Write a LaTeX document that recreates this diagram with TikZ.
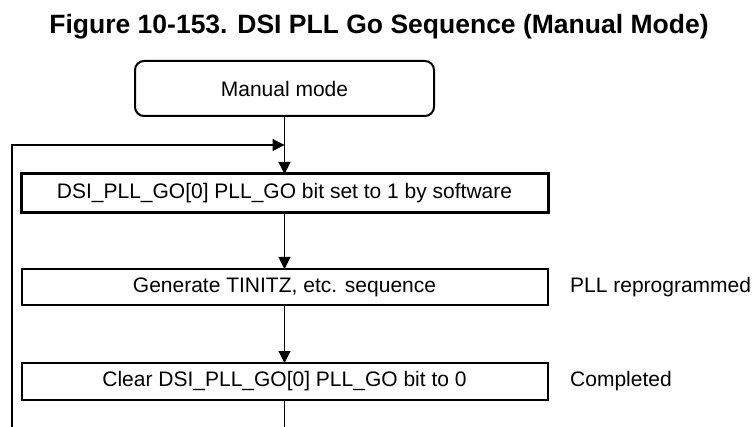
\documentclass[tikz,border=0pt]{standalone}
\usepackage{fontspec}
\setmainfont{Liberation Sans}
\usetikzlibrary{arrows.meta}
\begin{document}
\begin{tikzpicture}[x=1pt,y=-1pt,
  boxtext/.style={font=\fontsize{21}{25}\selectfont},
  stepbox/.style={draw=black,line width=2pt,inner sep=0pt,outer sep=0pt,boxtext},
  conn/.style={draw=black,line width=1.1pt},
  arr/.style={conn,-{Triangle[length=12pt,width=12pt]}}]
\useasboundingbox (0,0) rectangle (754,427);
\node[font=\fontsize{26.5}{30}\selectfont\bfseries,anchor=base,inner sep=0pt] (title) at (379,33.5) {Figure 10-153. DSI PLL Go Sequence (Manual Mode)};
\node[stepbox,rounded corners=9pt,minimum width=299pt,minimum height=55pt] (manual) at (284.5,88.5) {Manual mode};
\node[stepbox,line width=3pt,minimum width=527pt,minimum height=39pt] (b1) at (284.5,193.5) {DSI\_PLL\_GO[0] PLL\_GO bit set to 1 by software};
\node[stepbox,minimum width=526pt,minimum height=36pt] (b2) at (284.5,287) {Generate TINITZ, etc. sequence};
\node[stepbox,minimum width=526pt,minimum height=37pt] (b3) at (284.5,381.5) {Clear DSI\_PLL\_GO[0] PLL\_GO bit to 0};
\node[boxtext,anchor=west,inner sep=0pt] (l1) at (570,287) {PLL reprogrammed};
\node[boxtext,anchor=west,inner sep=0pt] (l2) at (570,381.5) {Completed};
\coordinate (bottom) at (284.5,428);
\coordinate (loopbot) at (12,428);
\coordinate (loopcorner) at (12,145);
\coordinate (merge) at (284.5,145);
\draw[arr] (manual.south) -- (b1.north);
\draw[arr] (b1.south) -- (b2.north);
\draw[arr] (b2.south) -- (b3.north);
\draw[conn] (b3.south) -- (bottom);
\draw[arr] (loopbot) -- (loopcorner) -- (merge);
\end{tikzpicture}
\end{document}
